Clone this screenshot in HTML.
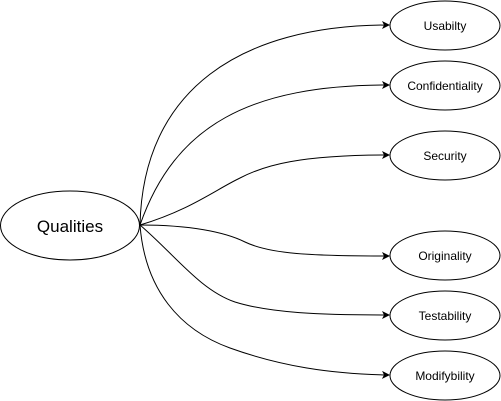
<!DOCTYPE html>
<html><head><style>html,body{margin:0;padding:0;background:#fff;}svg{display:block;}</style></head>
<body>
<svg width="501" height="401" viewBox="0 0 501 401" xmlns="http://www.w3.org/2000/svg" font-family="Liberation Sans, Arial, sans-serif">
<defs><marker id="a" markerWidth="8" markerHeight="8" refX="7" refY="4" orient="auto" markerUnits="userSpaceOnUse"><path d="M0,0 L8,4 L0,8 L2,4 Z" fill="#000"/></marker></defs>
<g fill="none" stroke="#000" stroke-width="1">
<path d="M140 225 C 143 90, 240 25, 389 25" marker-end="url(#a)"/>
<path d="M140 225 C 175 125, 250 85, 389 85" marker-end="url(#a)"/>
<path d="M140 225 C 190 210, 215 190, 240 178 C 265 165, 300 155, 389 155" marker-end="url(#a)"/>
<path d="M140 225 C 190 225, 225 232, 245 242 C 270 254, 310 256, 389 256" marker-end="url(#a)"/>
<path d="M140 225 C 175 255, 200 290, 235 302 C 270 313, 320 315, 389 315" marker-end="url(#a)"/>
<path d="M140 225 C 145 290, 180 330, 230 348 C 280 366, 330 374, 389 375" marker-end="url(#a)"/>
</g>
<g fill="#fff" stroke="#000" stroke-width="1">
<ellipse cx="70" cy="225.5" rx="69.5" ry="34.5"/>
<ellipse cx="445" cy="25.5" rx="55" ry="24.5"/>
<ellipse cx="445" cy="85.5" rx="55" ry="24.5"/>
<ellipse cx="445" cy="155.5" rx="55" ry="24.5"/>
<ellipse cx="445" cy="255.5" rx="55" ry="24.5"/>
<ellipse cx="445" cy="315.5" rx="55" ry="24.5"/>
<ellipse cx="445" cy="375.5" rx="55" ry="24.5"/>
</g>
<g text-anchor="middle" fill="#000">
<text x="70" y="232" font-size="17">Qualities</text>
<g font-size="12">
<text x="445" y="30">Usabilty</text>
<text x="445" y="90">Confidentiality</text>
<text x="445" y="160">Security</text>
<text x="445" y="260">Originality</text>
<text x="445" y="320">Testability</text>
<text x="445" y="380">Modifybility</text>
</g></g>
</svg>
</body></html>
